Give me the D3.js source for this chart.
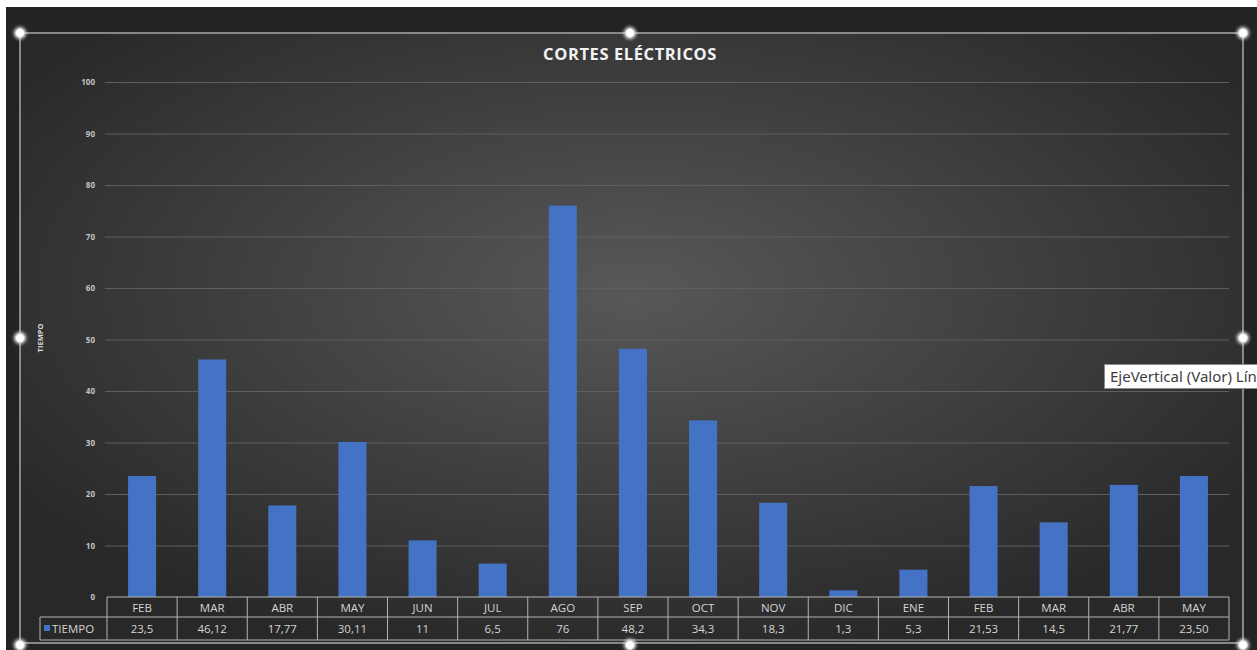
<!DOCTYPE html>
<html>
<head>
<meta charset="utf-8">
<script src="https://cdn.jsdelivr.net/npm/d3@7"></script>
<style>
  body { margin: 0; background: #fff; }
  svg { display: block; font-family: "Open Sans", "Liberation Sans", sans-serif; }
</style>
</head>
<body>
<svg id="chart" width="1257" height="650"></svg>
<script>
const months = ["FEB", "MAR", "ABR", "MAY", "JUN", "JUL", "AGO", "SEP", "OCT", "NOV", "DIC", "ENE", "FEB", "MAR", "ABR", "MAY"];
const tiempo = [23.5, 46.12, 17.77, 30.11, 11, 6.5, 76, 48.2, 34.3, 18.3, 1.3, 5.3, 21.53, 14.5, 21.77, 23.5];
const tiempoLabels = ["23,5", "46,12", "17,77", "30,11", "11", "6,5", "76", "48,2", "34,3", "18,3", "1,3", "5,3", "21,53", "14,5", "21,77", "23,50"];
const yTicks = [0, 10, 20, 30, 40, 50, 60, 70, 80, 90, 100];

const W = 1257, H = 650;
const plot = { left: 107, right: 1229, top: 82, bottom: 597 };
const rowH = [20, 23];

const svg = d3.select("#chart");
const defs = svg.append("defs");

const grad = defs.append("radialGradient")
  .attr("id", "bg")
  .attr("cx", "50%").attr("cy", "42%").attr("r", "62%");
grad.append("stop").attr("offset", "0%").attr("stop-color", "#585858");
grad.append("stop").attr("offset", "100%").attr("stop-color", "#282828");

const glow = defs.append("filter").attr("id", "glow")
  .attr("x", "-100%").attr("y", "-100%").attr("width", "300%").attr("height", "300%");
glow.append("feGaussianBlur").attr("stdDeviation", 1.6);

// outer window area
svg.append("rect").attr("x", 6).attr("y", 7).attr("width", W - 6).attr("height", H - 7).attr("fill", "#232323");
svg.append("rect").attr("x", 20).attr("y", 33).attr("width", 1223).attr("height", 610).attr("fill", "url(#bg)");

const x = d3.scaleBand().domain(d3.range(months.length)).range([plot.left, plot.right]).padding(0);
const y = d3.scaleLinear().domain([0, 100]).range([plot.bottom, plot.top]);

// gridlines + y axis
const yAxis = svg.append("g")
  .attr("transform", `translate(${plot.left - 2},0)`)
  .call(d3.axisLeft(y).tickValues(yTicks).tickSize(-(plot.right - plot.left + 2)).tickPadding(10));
yAxis.select(".domain").remove();
yAxis.selectAll(".tick line").attr("stroke", "#5e5e5e").attr("stroke-width", 1)
  .filter((d) => d === 0).remove();
yAxis.selectAll(".tick text")
  .attr("fill", "#c4c4c4").attr("font-size", 8).attr("font-weight", "bold")
  .attr("font-family", "'Open Sans', sans-serif");

svg.append("text")
  .attr("transform", "translate(43,338) rotate(-90)")
  .attr("text-anchor", "middle")
  .attr("fill", "#d9d9d9").attr("font-size", 7.5).attr("font-weight", "bold")
  .text("TIEMPO");

// bars
const barW = x.bandwidth() * 0.4;
svg.append("g").selectAll("rect")
  .data(tiempo)
  .join("rect")
  .attr("x", (d, i) => x(i) + (x.bandwidth() - barW) / 2)
  .attr("y", (d) => y(d))
  .attr("width", barW)
  .attr("height", (d) => y(0) - y(d))
  .attr("fill", "#4472c4");

// title
svg.append("text")
  .attr("x", 630).attr("y", 60)
  .attr("text-anchor", "middle")
  .attr("fill", "#f2f2f2").attr("font-size", 16.5).attr("font-weight", "bold")
  .attr("letter-spacing", 0.6)
  .text("CORTES ELÉCTRICOS");

// data table
const tbl = svg.append("g");
const stroke = "#b3b3b3";
const yTop = plot.bottom, yMid = plot.bottom + rowH[0], yBot = yMid + rowH[1];
tbl.append("line").attr("x1", plot.left).attr("x2", plot.right).attr("y1", yTop).attr("y2", yTop).attr("stroke", stroke);
tbl.append("line").attr("x1", 40).attr("x2", plot.right).attr("y1", yMid).attr("y2", yMid).attr("stroke", stroke);
tbl.append("line").attr("x1", 40).attr("x2", plot.right).attr("y1", yBot).attr("y2", yBot).attr("stroke", stroke);
tbl.append("line").attr("x1", 40).attr("x2", 40).attr("y1", yMid).attr("y2", yBot).attr("stroke", stroke);
tbl.selectAll("line.v")
  .data(d3.range(months.length + 1))
  .join("line")
  .attr("class", "v")
  .attr("x1", (i) => i < months.length ? x(i) : plot.right)
  .attr("x2", (i) => i < months.length ? x(i) : plot.right)
  .attr("y1", yTop).attr("y2", yBot)
  .attr("stroke", stroke);

tbl.selectAll("text.cat")
  .data(months)
  .join("text")
  .attr("class", "cat")
  .attr("x", (d, i) => x(i) + x.bandwidth() / 2)
  .attr("y", yTop + 14.5)
  .attr("text-anchor", "middle")
  .attr("fill", "#d4d4d4").attr("font-size", 11.5)
  .text((d) => d);

tbl.selectAll("text.val")
  .data(tiempoLabels)
  .join("text")
  .attr("class", "val")
  .attr("x", (d, i) => x(i) + x.bandwidth() / 2)
  .attr("y", yMid + 16)
  .attr("text-anchor", "middle")
  .attr("fill", "#d4d4d4").attr("font-size", 11.5)
  .text((d) => d);

tbl.append("rect").attr("x", 44).attr("y", yMid + 8).attr("width", 6).attr("height", 6).attr("fill", "#4472c4");
tbl.append("text").attr("x", 52).attr("y", yMid + 16)
  .attr("fill", "#d4d4d4").attr("font-size", 11.5).text("TIEMPO");

// selection frame + handles
svg.append("rect").attr("x", 20).attr("y", 33).attr("width", 1223).attr("height", 610)
  .attr("fill", "none").attr("stroke", "#a8a8a8").attr("stroke-width", 1.5);
const handles = [[20, 33], [630, 33], [1243, 33], [20, 338], [1243, 338], [20, 645], [630, 645], [1243, 645]];
const hg = svg.append("g");
hg.selectAll("circle.g").data(handles).join("circle").attr("class", "g")
  .attr("cx", (d) => d[0]).attr("cy", (d) => d[1]).attr("r", 6.5)
  .attr("fill", "#ffffff").attr("opacity", 0.7).attr("filter", "url(#glow)");
hg.selectAll("circle.h").data(handles).join("circle").attr("class", "h")
  .attr("cx", (d) => d[0]).attr("cy", (d) => d[1]).attr("r", 4.5)
  .attr("fill", "#ffffff").attr("stroke", "#cfcfcf").attr("stroke-width", 1);

// tooltip
svg.append("rect").attr("x", 1104.5).attr("y", 364.5).attr("width", 170).attr("height", 24)
  .attr("fill", "#ffffff").attr("stroke", "#8c8c8c");
svg.append("text").attr("x", 1110).attr("y", 382)
  .attr("fill", "#3c3c3c").attr("font-size", 15)
  .attr("font-family", "'Noto Sans', sans-serif")
  .text("EjeVertical (Valor)  Línea");
</script>
</body>
</html>
